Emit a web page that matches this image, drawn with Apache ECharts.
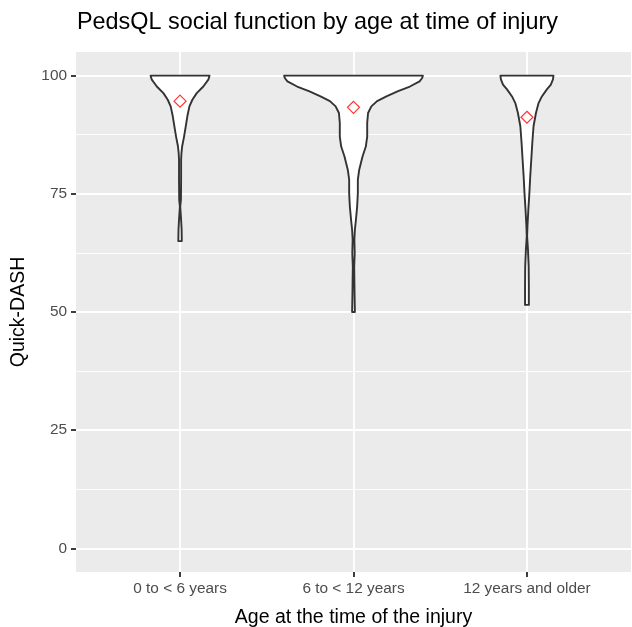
<!DOCTYPE html>
<html>
<head>
<meta charset="utf-8">
<script src="https://cdn.jsdelivr.net/npm/echarts@6/dist/echarts.min.js"></script>
<style>
html,body{margin:0;padding:0;background:#fff;}
#chart{width:632px;height:627px;}
</style>
</head>
<body>
<div id="chart"></div>
<script>
const categories = ['0 to < 6 years', '6 to < 12 years', '12 years and older'];
const yTicks = [0, 25, 50, 75, 100];
const yMinorTicks = [12.5, 37.5, 62.5, 87.5];
const meanValues = [94.6, 93.3, 91.2];

// violin outlines: y values and half-widths (x-axis units)
const violin1Y = [100, 99.15, 97.7, 96.3, 94.9, 93.5, 91.4, 89.3, 87.1, 85.0, 83.6, 82.2, 78.0, 73.7, 72.3, 69.5, 67.4, 65];
const violin1W = [0.170, 0.163, 0.134, 0.096, 0.071, 0.054, 0.042, 0.033, 0.023, 0.012, 0.008, 0.006, 0.006, 0.005, 0.001, 0.006, 0.009, 0.010];
const violin2Y = [100, 99.5, 98.8, 97.7, 96.7, 95.6, 94.6, 93.5, 92.1, 90.0, 87.1, 85.0, 82.9, 80.1, 78.0, 75.1, 72.3, 69.5, 67.4, 65.3, 62.4, 59.6, 54.0, 50];
const violin2W = [0.400, 0.396, 0.381, 0.325, 0.257, 0.190, 0.136, 0.103, 0.084, 0.079, 0.079, 0.071, 0.052, 0.033, 0.025, 0.025, 0.021, 0.014, 0.008, 0.005, 0.007, 0.004, 0.006, 0.008];
const violin3Y = [100, 99.2, 98.1, 97.1, 95.6, 94.2, 92.1, 89.3, 85.8, 82.2, 78.7, 75.1, 71.6, 68.1, 66.0, 63.2, 59.6, 55.4, 51.5];
const violin3W = [0.153, 0.150, 0.138, 0.115, 0.086, 0.067, 0.052, 0.038, 0.031, 0.025, 0.019, 0.014, 0.008, 0.003, 0.001, 0.006, 0.010, 0.011, 0.011];

const violinY = [violin1Y, violin2Y, violin3Y];
const violinW = [violin1W, violin2W, violin3W];

const chart = echarts.init(document.getElementById('chart'), null, {renderer: 'canvas'});

const gridW = 1.9;
const option = {
  backgroundColor: '#ffffff',
  animation: false,
  title: {
    text: 'PedsQL social function by age at time of injury',
    left: 77, top: 11, padding: 0,
    textStyle: {fontFamily: 'Liberation Sans', fontSize: 23.4, fontWeight: 'normal', color: '#000'}
  },
  grid: {left: 76, right: 1, top: 52, bottom: 55, show: true, backgroundColor: '#EBEBEB', borderWidth: 0,
         containLabel: false, outerBoundsMode: 'none'},
  xAxis: {
    type: 'value', min: 0.4, max: 3.6,
    name: 'Age at the time of the injury', nameLocation: 'middle', nameGap: 36,
    nameTextStyle: {fontFamily: 'Liberation Sans', fontSize: 19.5, color: '#000'},
    axisLine: {show: false, onZero: false},
    axisTick: {show: true, customValues: [1, 2, 3], length: 5, lineStyle: {color: '#333333', width: 1.9}},
    axisLabel: {
      customValues: [1, 2, 3], margin: 9,
      fontFamily: 'Liberation Sans', fontSize: 15.4, color: '#4D4D4D',
      formatter: v => categories[Math.round(v) - 1]
    },
    splitLine: {show: true, lineStyle: {color: '#ffffff', width: gridW}}
  },
  yAxis: [{
    type: 'value', min: -5, max: 105,
    name: 'Quick-DASH', nameLocation: 'middle', nameGap: 47, nameRotate: 90,
    nameTextStyle: {fontFamily: 'Liberation Sans', fontSize: 19.5, color: '#000'},
    axisLine: {show: false, onZero: false},
    axisTick: {show: true, customValues: yTicks, length: 5, lineStyle: {color: '#333333', width: 1.9}},
    axisLabel: {customValues: yTicks, margin: 9, fontFamily: 'Liberation Sans', fontSize: 15.4, color: '#4D4D4D'},
    splitLine: {show: true, lineStyle: {color: '#ffffff', width: gridW}}
  }, {
    type: 'value', min: -5, max: 105, position: 'left',
    axisLine: {show: false, onZero: false},
    axisTick: {show: false, customValues: yMinorTicks},
    axisLabel: {show: false, customValues: yMinorTicks},
    splitLine: {show: true, lineStyle: {color: '#ffffff', width: 0.95}}
  }],
  series: [{
    type: 'custom',
    coordinateSystem: 'cartesian2d',
    data: categories.map((c, i) => [i + 1, 100]),
    encode: {x: 0, y: 1},
    z: 2,
    renderItem: function (params, api) {
      const i = params.dataIndex;
      const ys = violinY[i], ws = violinW[i];
      const cx = i + 1;
      const pts = [];
      for (let k = 0; k < ys.length; k++) pts.push(api.coord([cx - ws[k], ys[k]]));
      for (let k = ys.length - 1; k >= 0; k--) pts.push(api.coord([cx + ws[k], ys[k]]));
      return {
        type: 'polygon',
        shape: {points: pts},
        style: {fill: '#ffffff', stroke: '#333333', lineWidth: 1.9, lineJoin: 'round'}
      };
    }
  }, {
    type: 'scatter',
    data: meanValues.map((v, i) => [i + 1, v]),
    symbol: 'diamond', symbolSize: 12, z: 3,
    itemStyle: {color: 'rgba(0,0,0,0)', borderColor: '#FF0000', borderWidth: 1.2}
  }]
};
chart.setOption(option);
</script>
</body>
</html>
